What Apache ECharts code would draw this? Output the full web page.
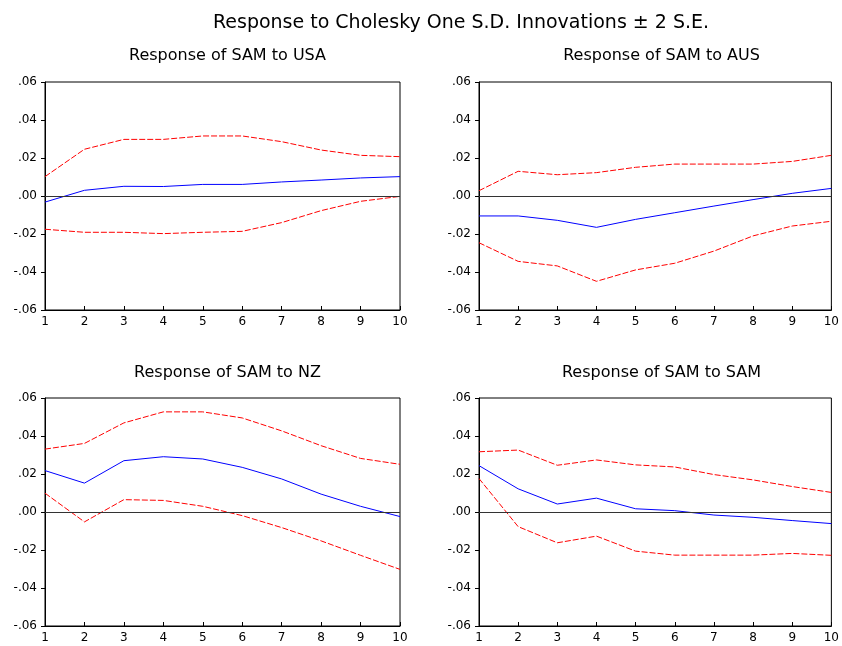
<!DOCTYPE html>
<html>
<head>
<meta charset="utf-8">
<script src="https://cdn.jsdelivr.net/npm/echarts@6/dist/echarts.min.js"></script>
<style>html,body{margin:0;padding:0;background:#fff}#c{width:842px;height:646px}</style>
</head>
<body>
<div id="c"></div>
<script>
const periods = [1,2,3,4,5,6,7,8,9,10];
const yTicks = [-0.06,-0.04,-0.02,0,0.02,0.04,0.06];

const usaIrf   = [-0.0032,0.0030,0.0051,0.0050,0.0061,0.0061,0.0074,0.0084,0.0095,0.0102];
const usaUpper = [0.0102,0.0246,0.0298,0.0298,0.0316,0.0316,0.0286,0.0242,0.0214,0.0207];
const usaLower = [-0.0175,-0.0191,-0.0191,-0.0198,-0.0191,-0.0186,-0.0140,-0.0077,-0.0028,-0.0002];

const ausIrf   = [-0.0105,-0.0105,-0.0128,-0.0165,-0.0123,-0.0088,-0.0053,-0.0019,0.0014,0.0040];
const ausUpper = [0.0028,0.0130,0.0112,0.0123,0.0151,0.0168,0.0168,0.0168,0.0182,0.0214];
const ausLower = [-0.0246,-0.0344,-0.0368,-0.0449,-0.0389,-0.0354,-0.0290,-0.0210,-0.0158,-0.0133];

const nzIrf    = [0.0218,0.0152,0.0270,0.0291,0.0279,0.0235,0.0174,0.0094,0.0030,-0.0024];
const nzUpper  = [0.0331,0.0361,0.0469,0.0527,0.0527,0.0495,0.0427,0.0349,0.0282,0.0251];
const nzLower  = [0.0099,-0.0052,0.0065,0.0061,0.0030,-0.0019,-0.0082,-0.0152,-0.0228,-0.0302];

const samIrf   = [0.0244,0.0122,0.0042,0.0073,0.0017,0.0007,-0.0016,-0.0028,-0.0045,-0.0061];
const samUpper = [0.0317,0.0326,0.0246,0.0274,0.0248,0.0237,0.0197,0.0169,0.0134,0.0103];
const samLower = [0.0176,-0.0077,-0.0162,-0.0127,-0.0206,-0.0227,-0.0227,-0.0227,-0.0218,-0.0228];

const mainTitle = 'Response to Cholesky One S.D. Innovations \u00b1 2 S.E.';
const panels = [
  {title:'Response of SAM to USA', irf:usaIrf, up:usaUpper, lo:usaLower},
  {title:'Response of SAM to AUS', irf:ausIrf, up:ausUpper, lo:ausLower},
  {title:'Response of SAM to NZ',  irf:nzIrf,  up:nzUpper,  lo:nzLower},
  {title:'Response of SAM to SAM', irf:samIrf, up:samUpper, lo:samLower}
];

const FONT = 'DejaVu Sans';
const layout = [
  {left:45, top:82, titleTop:43},
  {left:479, top:82, titleTop:43},
  {left:45, top:398, titleTop:360},
  {left:479, top:398, titleTop:360}
];
const W = 355, H = 228;

const pairs = v => periods.map((p,i)=>[p,v[i]]);
const fmtY = v => { const s = (Math.round(v*100)/100).toFixed(2); return s.replace('0.', '.'); };

const titles = [{text:mainTitle, left:456, top:9, textAlign:'center',
  textStyle:{fontFamily:FONT, fontSize:19, fontWeight:'normal', color:'#000'}}];
const grids = [], xAxes = [], yAxes = [], series = [];
panels.forEach((p,k)=>{
  const L = layout[k];
  titles.push({text:p.title, left:L.left + W/2, top:L.titleTop, textAlign:'center',
    textStyle:{fontFamily:FONT, fontSize:16, fontWeight:'normal', color:'#000'}});
  grids.push({left:L.left, top:L.top, width:W, height:H, show:true, borderColor:'#000', borderWidth:1, backgroundColor:'transparent'});
  xAxes.push({type:'value', gridIndex:k, min:1, max:10, interval:1,
    axisLine:{onZero:false, lineStyle:{color:'#000', width:1}},
    axisTick:{inside:true, length:4, lineStyle:{color:'#000'}},
    axisLabel:{fontFamily:FONT, fontSize:12, color:'#000', margin:6},
    splitLine:{show:false}});
  yAxes.push({type:'value', gridIndex:k, min:-0.06, max:0.06, interval:0.02,
    axisLine:{show:true, onZero:false, lineStyle:{color:'#000', width:1}},
    axisTick:{show:true, inside:false, length:4, lineStyle:{color:'#000'}},
    axisLabel:{fontFamily:FONT, fontSize:12, color:'#000', margin:8, formatter:fmtY},
    splitLine:{show:false}});
  series.push({type:'line', xAxisIndex:k, yAxisIndex:k, data:pairs(p.up), symbol:'none',
    lineStyle:{color:'#ff0000', width:1, type:[6,2]}, silent:true, animation:false});
  series.push({type:'line', xAxisIndex:k, yAxisIndex:k, data:pairs(p.lo), symbol:'none',
    lineStyle:{color:'#ff0000', width:1, type:[6,2]}, silent:true, animation:false});
  series.push({type:'line', xAxisIndex:k, yAxisIndex:k, data:pairs(p.irf), symbol:'none',
    lineStyle:{color:'#0000ff', width:1}, silent:true, animation:false, z:3,
    markLine:{silent:true, symbol:'none', label:{show:false}, animation:false,
      lineStyle:{color:'#333', width:1, type:'solid'}, data:[{yAxis:0}]}});
});

const chart = echarts.init(document.getElementById('c'), null, {renderer:'canvas'});
chart.setOption({animation:false, title:titles, grid:grids, xAxis:xAxes, yAxis:yAxes, series:series});
</script>
</body>
</html>
